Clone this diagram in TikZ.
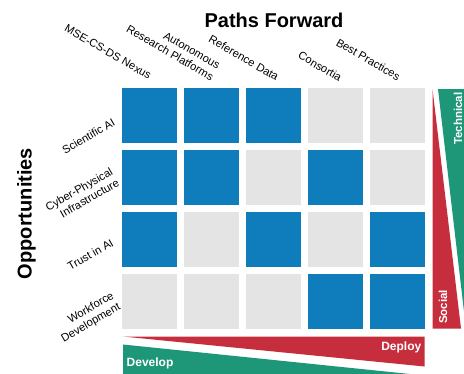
\documentclass[tikz,border=0pt]{standalone}
\usepackage{fontspec}
\setmainfont{Liberation Sans}
\definecolor{cblue}{HTML}{0F7DBB}
\definecolor{cgray}{HTML}{E4E4E4}
\definecolor{cred}{HTML}{C72E3D}
\definecolor{cgreen}{HTML}{1E9678}
\tikzset{
  cell/.style={minimum size=55pt, inner sep=0pt, outer sep=0pt, draw=none},
  on/.style={cell, fill=cblue},
  off/.style={cell, fill=cgray},
  collabel/.style={rotate=-30, anchor=east, inner sep=0pt, align=right, font=\fontsize{11.2}{13}\selectfont},
  rowlabel/.style={rotate=30, anchor=east, inner sep=0pt, align=right, font=\fontsize{11.2}{13}\selectfont},
  axistitle/.style={inner sep=0pt, font=\bfseries\fontsize{20}{24}\selectfont},
  bandlabel/.style={inner sep=0pt, text=white, font=\bfseries\fontsize{12}{14}\selectfont},
  vbandlabel/.style={inner sep=0pt, text=white, rotate=90, font=\bfseries\fontsize{11.5}{14}\selectfont},
}
\begin{document}
\begin{tikzpicture}[x=1pt,y=-1pt]
\clip (0,0) rectangle (464,373);
\fill[white] (0,0) rectangle (464,373);
% grid
\foreach \row/\pat [count=\i from 0] in {1/{1,1,1,0,0},2/{1,1,0,1,0},3/{1,0,1,0,1},4/{0,0,0,1,1}}{
  \foreach \v [count=\j from 0] in \pat {
    \ifnum\v=1
      \node[on] (c-\row-\j) at ({149.5+62*\j},{115.5+62*\i}) {};
    \else
      \node[off] (c-\row-\j) at ({149.5+62*\j},{115.5+62*\i}) {};
    \fi
  }
}
% titles
\node[axistitle, anchor=base] (title) at (274,27) {Paths Forward};
\node[axistitle, rotate=90, anchor=base] (opp) at (31.7,213.5) {Opportunities};
% column labels
\node[collabel] (l1) at (150.5,76.5) {MSE-CS-DS Nexus};
\node[collabel] (l2) at (216,72) {Autonomous\\Research Platforms};
\node[collabel] (l3) at (278,77.5) {Reference Data};
\node[collabel] (l4) at (341,78.5) {Consortia};
\node[collabel] (l5) at (399.5,77.5) {Best Practices};
% row labels
\node[rowlabel] (r1) at (114,121.5) {Scientific AI};
\node[rowlabel] (r2) at (115,176) {Cyber-Physical\\Infrastructure};
\node[rowlabel] (r3) at (112.5,242) {Trust in AI};
\node[rowlabel] (r4) at (116.5,301) {Workforce\\Development};
% right wedges
\fill[cred] (432.5,89) -- (432.5,328.5) -- (461,328.5) -- cycle;
\fill[cgreen] (438,89) -- (466,89) -- (466,328.5) -- cycle;
% bottom wedges
\fill[cred] (123,336.5) -- (424.5,336.5) -- (424.5,366.5) -- cycle;
\fill[cgreen] (123,344.5) -- (424.5,375.5) -- (123,375.5) -- cycle;
% band labels
\node[vbandlabel, anchor=base west] (tech) at (462,145) {Technical};
\node[vbandlabel, anchor=base west] (soc) at (447,324) {Social};
\node[bandlabel, anchor=base east] (dep) at (421.5,350) {Deploy};
\node[bandlabel, anchor=base west] (dev) at (126.5,366) {Develop};
\end{tikzpicture}
\end{document}
